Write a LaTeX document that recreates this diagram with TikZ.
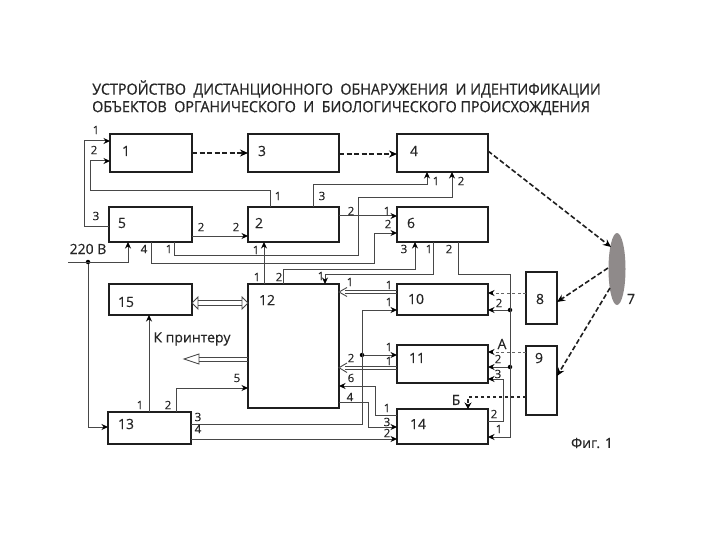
\documentclass[tikz,border=0pt]{standalone}
\usepackage{fontspec}
\setmainfont[FakeBold=0.3]{Open Sans}
\newfontfamily\titlefont[FakeBold=0.6,FakeStretch=0.93]{Open Sans}
\usetikzlibrary{arrows.meta,shapes.geometric}
\definecolor{ovalgray}{HTML}{8F8A8A}
\newcounter{plabn}
\newcommand{\plab}[3]{\stepcounter{plabn}\node[plabel] (pl\theplabn) at (#1,#2) {#3};}
\newcommand{\bnum}[4]{\node[bnumber] (#1) at (#2,#3) {#4};}
\newcommand{\bx}[5]{\node[blockbox,minimum width={#4pt-#2pt},minimum height={#5pt-#3pt},anchor=north west] (#1) at (#2,#3) {};}
\tikzset{
  blockbox/.style={draw=black!88,line width=1.5pt,fill=white,inner sep=0pt,outer sep=0pt},
  plabel/.style={font=\fontsize{11.5}{12}\selectfont,text=black!85,inner sep=0pt},
  bnumber/.style={font=\fontsize{14}{15}\selectfont,text=black!85,inner sep=0pt},
  wire/.style={draw=black!72,line width=1pt},
  arr/.style={wire,-{Stealth[length=6.5pt,width=6pt,black]}},
  dashline/.style={draw=black!88,line width=1.6pt,dash pattern=on 5pt off 2.5pt},
  darr/.style={dashline,-{Stealth[length=8pt,width=7pt,black]}},
  thindash/.style={draw=black!60,line width=1pt,dash pattern=on 3pt off 2.5pt,-{Stealth[length=6.5pt,width=6pt,black]}},
  thickdash/.style={draw=black!85,line width=1.3pt,dash pattern=on 3.5pt off 2.5pt,-{Stealth[length=6.5pt,width=7pt,black]}},
  dot/.style={circle,fill=black,inner sep=0pt,minimum size=4.5pt},
  hline/.style={draw=black!72,line width=.9pt},
}
\begin{document}
\begin{tikzpicture}[x=1pt,y=-1pt]
\useasboundingbox[fill=white] (0,0) rectangle (720,540);
\node[anchor=west,inner sep=0pt,font=\titlefont\fontsize{15.4}{16}\selectfont,text=black!85] (title1) at (92,89) {УСТРОЙСТВО\ \ ДИСТАНЦИОННОГО\ \ ОБНАРУЖЕНИЯ\ \ И ИДЕНТИФИКАЦИИ};
\node[anchor=west,inner sep=0pt,font=\titlefont\fontsize{15.4}{16}\selectfont,text=black!85] (title2) at (92,108) {ОБЪЕКТОВ\ \ ОРГАНИЧЕСКОГО\ \ И\ \ БИОЛОГИЧЕСКОГО ПРОИСХОЖДЕНИЯ};

\bx{b1}{110}{134}{192}{172}
\bx{b3}{248}{134}{339}{172}
\bx{b4}{397}{134}{488}{172}
\bx{b5}{109}{207}{192}{242}
\bx{b2}{248}{207}{339}{242}
\bx{b6}{397}{207}{488}{242}
\bx{b15}{109}{284}{192}{315}
\bx{b12}{248}{284}{339}{408}
\bx{b13}{108}{412}{191}{444}
\bx{b10}{397}{284}{488}{315}
\bx{b11}{397}{345}{488}{383}
\bx{b14}{397}{409}{488}{444}
\bx{b8}{526}{272}{557}{324}
\bx{b9}{526}{346}{557}{415}
\node[ellipse,fill=ovalgray,draw=none,minimum width=17pt,minimum height=72pt,inner sep=0pt] (b7) at (617,269) {};

\node[dot] (d220) at (88,262) {};
\node[dot] (d10) at (510,310) {};
\node[dot] (d11) at (510,367) {};
\node[dot] (d13) at (362,355) {};
\coordinate (c220) at (68,262);
\coordinate (cprint) at (184,359);

% dashed
\draw[darr] (b1.east |- 0,153) -- (b3.west |- 0,153);
\draw[darr] (b3.east |- 0,154) -- (b4.west |- 0,154);
\draw[darr] (b4.east |- 0,151) -- (611,247);
\draw[darr] (608,268) -- (b8.east |- 0,302);
\draw[darr] (610,288) -- (b9.east |- 0,376);
\draw[thindash] (b8.west |- 0,293) -- (b10.east |- 0,293);
\draw[thindash] (b9.west |- 0,352) -- (b11.east |- 0,352);
\draw[thickdash] (b9.west |- 0,397) -- (468,397) -- (468,0 |- b14.north);

% top wires
\draw[arr] (b5.west |- 0,227) -- (84,227) -- (84,141) -- (b1.west |- 0,141);
\draw[arr] (270,0 |- b2.north) -- (270,191) -- (90,191) -- (90,161) -- (b1.west |- 0,161);
\draw[arr] (b5.east |- 0,236) -- (b2.west |- 0,236);
\draw[arr] (c220) -- (128,262) -- (128,0 |- b5.south);
\draw[arr] (d220) -- (88,427) -- (b13.west |- 0,427);
\draw[arr] (174,0 |- b5.south) -- (174,255) -- (358,255) -- (358,198) -- (452,198) -- (452,0 |- b4.south);
\draw[arr] (151,0 |- b5.south) -- (151,263) -- (374,263) -- (374,233) -- (b6.west |- 0,233);
\draw[arr] (b2.east |- 0,216) -- (b6.west |- 0,216);
\draw[arr] (313,0 |- b2.north) -- (313,185) -- (427,185) -- (427,0 |- b4.south);
\draw[arr] (264,0 |- b12.north) -- (264,0 |- b2.south);
\draw[arr] (283,0 |- b12.north) -- (283,269) -- (415,269) -- (415,0 |- b6.south);
\draw[arr] (433,0 |- b6.south) -- (433,274) -- (325,274) -- (325,0 |- b12.north);
\draw[arr] (458,0 |- b6.south) -- (458,274) -- (510,274) -- (510,437) -- (b14.east |- 0,437);
\draw[arr] (d10) -- (b10.east |- 0,310);
\draw[arr] (d11) -- (b11.east |- 0,367);
\draw[arr] (b14.east |- 0,421) -- (503,421) -- (503,379) -- (b11.east |- 0,379);

% left-of-10/11/14 wires
\draw[arr] (b13.east |- 0,424) -- (362,424) -- (362,310) -- (b10.west |- 0,310);
\draw[arr] (d13) -- (b11.west |- 0,355);
\draw[arr] (b14.west |- 0,415) -- (375,415) -- (375,386) -- (b12.east |- 0,386);
\draw[arr] (b12.east |- 0,402) -- (368,402) -- (368,427) -- (b14.west |- 0,427);
\draw[arr] (b13.east |- 0,439) -- (b14.west |- 0,439);
\draw[arr] (149,0 |- b13.north) -- (149,0 |- b15.south);
\draw[arr] (176,0 |- b13.north) -- (176,388) -- (b12.west |- 0,388);

% hollow arrows: 10 to 12
\draw[hline] (b10.west |- 0,290.5) -- (345,290.5);
\draw[hline] (b10.west |- 0,293.5) -- (345,293.5);
\draw[hline] (347,287.5) -- (b12.east |- 0,292) -- (347,296.5);
% 11 to 12
\draw[hline] (b11.west |- 0,366) -- (345,366);
\draw[hline] (b11.west |- 0,369.5) -- (345,369.5);
\draw[hline] (347,363) -- (b12.east |- 0,367.7) -- (347,372.5);
% 15 to 12
\draw[hline] (198,300.5) -- (242,300.5);
\draw[hline] (198,305.5) -- (242,305.5);
\draw[hline] (198,297) -- (b15.east |- 0,303) -- (198,309) -- cycle;
\draw[hline] (242,297) -- (b12.west |- 0,303) -- (242,309) -- cycle;
% 12 to printer
\draw[hline] (b12.west |- 0,357) -- (199,357);
\draw[hline] (b12.west |- 0,361) -- (199,361);
\draw[hline] (199,354) -- (cprint) -- (199,364) -- cycle;

% box numbers
\bnum{t1}{126}{151}{1}
\bnum{t3}{262}{151}{3}
\bnum{t4}{414}{151}{4}
\bnum{t5}{122}{223}{5}
\bnum{t2}{259}{223}{2}
\bnum{t6}{411}{223}{6}
\bnum{t10}{416}{299}{10}
\bnum{t12}{267}{300}{12}
\bnum{t15}{126}{302}{15}
\bnum{t13}{126}{424}{13}
\bnum{t11}{417}{358}{11}
\bnum{t14}{418}{424}{14}
\bnum{t8}{540}{299}{8}
\bnum{t9}{539}{358}{9}
\bnum{t7}{631}{299}{7}
\bnum{t220}{88}{249}{220 В}
\bnum{tprn}{192}{339}{К принтеру}
\bnum{tfig}{592}{443}{Фиг. 1}

% port labels
\plab{96}{130}{1}\plab{94}{150}{2}\plab{96}{216}{3}
\plab{278}{196}{1}\plab{322}{196}{3}\plab{351}{211}{2}
\plab{201}{227}{2}\plab{236}{227}{2}\plab{144}{249}{4}\plab{169}{249}{1}
\plab{256}{250}{1}\plab{257}{277}{1}\plab{279}{277}{2}\plab{321}{276}{1}\plab{350}{282}{1}
\plab{436}{181}{1}\plab{461}{181}{2}\plab{387}{211}{1}\plab{388}{224}{2}
\plab{404}{249}{3}\plab{429}{249}{1}\plab{449}{249}{2}
\plab{389}{285}{1}\plab{389}{302}{1}\plab{499}{303}{2}
\plab{140}{405}{1}\plab{168}{405}{2}\plab{198}{417}{3}\plab{198}{429}{4}\plab{237}{378}{5}
\plab{389}{347}{1}\plab{389}{361}{1}\plab{351}{358}{2}\plab{351}{378}{6}\plab{350}{397}{4}
\plab{387}{408}{1}\plab{387}{422}{3}\plab{387}{433}{2}
\plab{498}{359}{2}\plab{498}{374}{3}\plab{494}{414}{2}\plab{499}{429}{1}
\bnum{tA}{502}{344}{А}
\bnum{tB}{456}{400}{Б}
\end{tikzpicture}
\end{document}
